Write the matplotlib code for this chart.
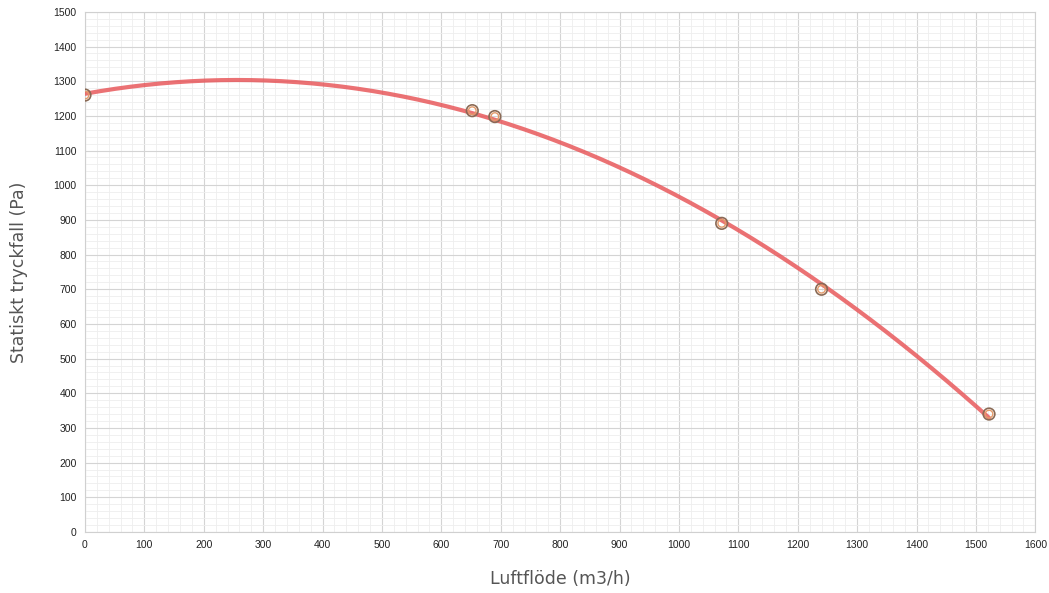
import numpy as np
import matplotlib
matplotlib.use("Agg")
import matplotlib.pyplot as plt
from matplotlib.ticker import MultipleLocator

# === Measured points ===
flow = [0, 652, 690, 1072, 1240, 1522]
pressure = [1260, 1215, 1198, 890, 700, 340]

# === Trend line (fitted to the points) ===
coef = np.polyfit(flow, pressure, 2)
xs = np.linspace(min(flow), max(flow), 300)
ys = np.polyval(coef, xs)
print(coef, np.polyval(coef, flow))

fig = plt.figure(figsize=(10.49, 5.93), dpi=100)
ax = fig.add_axes([0.081, 0.103, 0.906, 0.877])

ax.plot(xs, ys, color="#e8595c", linewidth=3, alpha=0.85, zorder=3, solid_capstyle="round")
ax.scatter(flow, pressure, s=70, facecolors="none", edgecolors="#8a6a55", linewidths=1.2, zorder=4)
ax.scatter(flow, pressure, s=30, facecolors="none", edgecolors="#e39a6a", linewidths=1.0, zorder=4)

ax.set_xlim(0, 1600)
ax.set_ylim(0, 1500)
ax.xaxis.set_major_locator(MultipleLocator(100))
ax.yaxis.set_major_locator(MultipleLocator(100))
ax.xaxis.set_minor_locator(MultipleLocator(20))
ax.yaxis.set_minor_locator(MultipleLocator(20))
ax.grid(which="major", color="#d4d4d4", linewidth=0.8)
ax.grid(which="minor", color="#eeeeee", linewidth=0.6)
ax.set_axisbelow(True)

for s in ax.spines.values():
    s.set_color("#d0d0d0")
    s.set_linewidth(0.8)
ax.tick_params(which="both", length=0, labelsize=7.5, colors="#222222", pad=6)
for lab in ax.get_xticklabels() + ax.get_yticklabels():
    lab.set_fontfamily("Liberation Sans")

ax.set_xlabel("Luftflöde (m3/h)", fontsize=12.5, color="#555555", labelpad=14)
ax.set_ylabel("Statiskt tryckfall (Pa)", fontsize=12.5, color="#555555", labelpad=18)

plt.savefig("out.png", dpi=100)
